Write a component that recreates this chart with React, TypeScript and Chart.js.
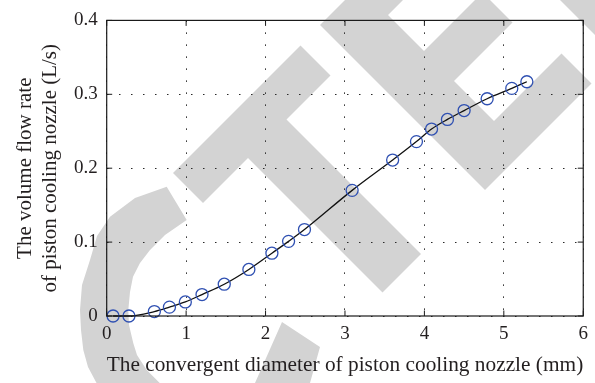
import { useEffect, useRef } from 'react';
import { Chart, registerables } from 'chart.js';

Chart.register(...registerables);

// Data
const diameters = [0.08, 0.28, 0.6, 0.79, 0.99, 1.2, 1.48, 1.79, 2.08, 2.29, 2.49, 3.09, 3.6, 3.9, 4.09, 4.29, 4.5, 4.79, 5.1, 5.29];
const flowRates = [0.0, 0.0, 0.006, 0.012, 0.019, 0.029, 0.043, 0.063, 0.085, 0.101, 0.117, 0.17, 0.211, 0.236, 0.253, 0.266, 0.278, 0.294, 0.308, 0.317];
const xTickLabels = ['0', '1', '2', '3', '4', '5', '6'];
const yTickLabels = ['0', '0.1', '0.2', '0.3', '0.4'];
const xTitle = 'The convergent diameter of piston cooling nozzle (mm)';
const yTitle = ['The volume flow rate', 'of piston cooling nozzle (L/s)'];

const FONT = '"Liberation Serif", "Times New Roman", serif';
const TEXT = '#231f20';
const MARKER = '#2f50b2';
const WATERMARK = '#d3d3d3';

// Decorative background watermark (not data)
const watermarkShapes: number[][][] = [
  // C
  [
    [166.7, 186.7], [135, 198], [110, 216.7], [97, 236], [90, 260], [82, 285], [80, 310], [81, 330], [83.3, 350], [88, 367], [96.7, 383.3],
    [115, 415], [160, 445], [220, 450], [280, 430], [310, 383], [320, 347],
    [282, 322], [255, 383], [230, 405], [190, 405], [160, 383.3], [146.7, 370], [137, 355], [133.3, 343.3], [129, 325], [128.3, 310],
    [130, 292], [133, 276.7], [140, 263], [150, 250], [165, 235], [186.7, 220],
  ],
  // T
  [
    [173, 173], [300.5, 45.5], [330.5, 75.5], [286.5, 119.5], [421, 254], [382.5, 292.5], [248, 158], [203, 203],
  ],
  // E
  [
    [320, 25], [485, 190], [591.5, 83.5], [561.5, 53.5], [494, 121], [454, 81], [512.5, 22.5], [482.5, -7.5],
    [424, 51], [388, 15], [551.5, -148.5], [522.5, -177.5],
  ],
  // corner piece
  [
    [560, 0], [600, 0], [600, 40],
  ],
];

const watermarkPlugin = {
  id: 'watermark',
  beforeDraw(chart: any) {
    const { ctx } = chart;
    ctx.save();
    ctx.fillStyle = WATERMARK;
    for (const shape of watermarkShapes) {
      ctx.beginPath();
      shape.forEach(([x, y], i) => (i === 0 ? ctx.moveTo(x, y) : ctx.lineTo(x, y)));
      ctx.closePath();
      ctx.fill();
    }
    ctx.restore();
  },
};

const framePlugin = {
  id: 'frame',
  afterDraw(chart: any) {
    const { ctx, chartArea: a, scales } = chart;
    const L = 5.5;
    ctx.save();
    ctx.strokeStyle = '#1a1a1a';
    ctx.lineWidth = 1;
    const seg = (x1: number, y1: number, x2: number, y2: number) => {
      ctx.beginPath();
      ctx.moveTo(x1, y1);
      ctx.lineTo(x2, y2);
      ctx.stroke();
    };
    scales.x.ticks.forEach((t: any) => {
      const p = scales.x.getPixelForValue(t.value);
      seg(p, a.bottom, p, a.bottom - L);
      seg(p, a.top, p, a.top + L);
    });
    scales.y.ticks.forEach((t: any) => {
      const p = scales.y.getPixelForValue(t.value);
      seg(a.left, p, a.left + L, p);
      seg(a.right, p, a.right - L, p);
    });
    ctx.lineWidth = 1.2;
    ctx.strokeRect(a.left, a.top, a.right - a.left, a.bottom - a.top);
    ctx.restore();
  },
};

export default function App() {
  const ref = useRef<HTMLCanvasElement>(null);

  useEffect(() => {
    if (!ref.current) return;
    const points = diameters.map((x, i) => ({ x, y: flowRates[i] }));
    const grid = { color: '#2a2a2a', lineWidth: 1, drawTicks: false };
    const chart = new Chart(ref.current, {
      type: 'line',
      data: {
        datasets: [
          {
            data: points,
            borderColor: '#111111',
            borderWidth: 1.3,
            tension: 0.4,
            cubicInterpolationMode: 'monotone',
            pointStyle: 'circle',
            pointRadius: 6,
            pointBorderWidth: 1.3,
            pointBorderColor: MARKER,
            pointBackgroundColor: 'rgba(0,0,0,0)',
            clip: false,
          } as any,
        ],
      },
      options: {
        animation: false,
        responsive: false,
        devicePixelRatio: 1,
        layout: { padding: { top: 14, right: 11.7, bottom: 0, left: 0 } },
        plugins: { legend: { display: false }, tooltip: { enabled: false } },
        scales: {
          x: {
            type: 'linear',
            min: 0,
            max: 6,
            grid,
            border: { display: false, dash: [1.5, 10.5] },
            ticks: {
              stepSize: 1,
              padding: 7,
              color: TEXT,
              font: { family: FONT, size: 19 },
              maxRotation: 0,
              callback: (_v: any, i: number) => xTickLabels[i],
            },
            title: {
              display: true,
              text: xTitle,
              color: TEXT,
              font: { family: FONT, size: 21.7 },
              padding: { top: 0, bottom: 4.7 },
            },
            afterFit: (s: any) => {
              s.height = 67;
            },
          },
          y: {
            type: 'linear',
            min: 0,
            max: 0.4,
            grid,
            border: { display: false, dash: [1.5, 10.5] },
            ticks: {
              stepSize: 0.1,
              padding: 9,
              color: TEXT,
              font: { family: FONT, size: 19 },
              callback: (_v: any, i: number) => yTickLabels[i],
            },
            title: {
              display: true,
              text: yTitle,
              color: TEXT,
              font: { family: FONT, size: 21 },
              padding: { top: 12.4, bottom: 0 },
            },
            afterFit: (s: any) => {
              s.width = 106.7;
            },
          },
        },
      },
      plugins: [watermarkPlugin, framePlugin],
    });
    return () => chart.destroy();
  }, []);

  return (
    <div style={{ position: 'absolute', left: 0, top: 0, width: 595, height: 383, background: '#fff' }}>
      <canvas ref={ref} width={595} height={383} style={{ display: 'block' }} />
    </div>
  );
}
